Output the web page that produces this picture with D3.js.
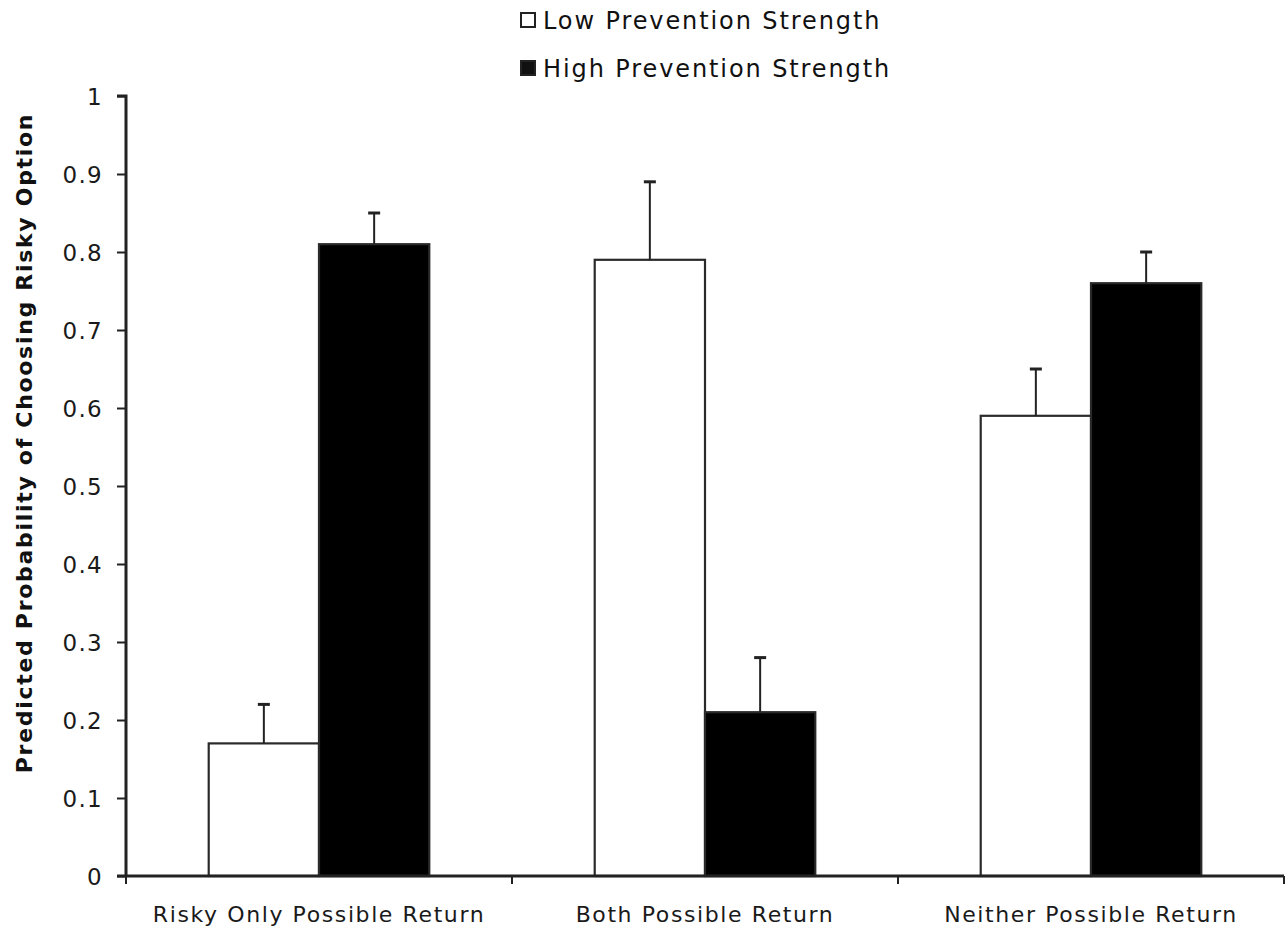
<!DOCTYPE html>
<html>
<head>
<meta charset="utf-8">
<script src="https://cdn.jsdelivr.net/npm/d3@7"></script>
<style>
  body { margin: 0; background: #fff; }
  svg text { font-family: "DejaVu Sans", Verdana, sans-serif; fill: #1a1a1a; }
</style>
</head>
<body>
<script>
  const categories = ["Risky Only Possible Return", "Both Possible Return", "Neither Possible Return"];
  const seriesNames = ["Low Prevention Strength", "High Prevention Strength"];
  const lowValues = [0.17, 0.79, 0.59];
  const highValues = [0.81, 0.21, 0.76];
  // upper end of the error bars
  const lowErrTop = [0.22, 0.89, 0.65];
  const highErrTop = [0.85, 0.28, 0.80];
  const yTicks = [0, 0.1, 0.2, 0.3, 0.4, 0.5, 0.6, 0.7, 0.8, 0.9, 1];

  var width = 1286;
  var height = 930;
  var margin = { top: 96, right: 2, bottom: 54, left: 126 };

  var svg = d3
    .select("body")
    .append("svg")
    .attr("width", width)
    .attr("height", height);

  var x0 = d3
    .scaleBand()
    .domain(categories)
    .range([margin.left, width - margin.right])
    .paddingInner(0)
    .paddingOuter(0);

  // excel style gap width 150%
  var x1 = d3
    .scaleBand()
    .domain(seriesNames)
    .range([0, x0.bandwidth()])
    .paddingInner(0)
    .paddingOuter(0.75);

  var y = d3
    .scaleLinear()
    .domain([0, 1])
    .range([height - margin.bottom, margin.top]);

  const rows = categories.map((c, i) => ({
    cat: c,
    bars: [
      { key: seriesNames[0], value: lowValues[i], err: lowErrTop[i], fill: "#fff" },
      { key: seriesNames[1], value: highValues[i], err: highErrTop[i], fill: "#000" }
    ]
  }));

  let groups = svg
    .selectAll(".group")
    .data(rows)
    .enter()
    .append("g")
    .attr("class", "group")
    .attr("transform", (d) => `translate(${x0(d.cat)},0)`);

  groups
    .selectAll("rect")
    .data((d) => d.bars)
    .enter()
    .append("rect")
    .attr("x", (d) => x1(d.key))
    .attr("y", (d) => y(d.value))
    .attr("width", x1.bandwidth())
    .attr("height", (d) => y(0) - y(d.value))
    .style("fill", (d) => d.fill)
    .style("stroke", "#2a2a2a")
    .style("stroke-width", 2.2);

  // error bars (upper only)
  groups
    .selectAll(".err")
    .data((d) => d.bars)
    .enter()
    .append("line")
    .attr("class", "err")
    .attr("x1", (d) => x1(d.key) + x1.bandwidth() / 2)
    .attr("x2", (d) => x1(d.key) + x1.bandwidth() / 2)
    .attr("y1", (d) => y(d.value))
    .attr("y2", (d) => y(d.err))
    .style("stroke", "#222")
    .style("stroke-width", 2);

  groups
    .selectAll(".cap")
    .data((d) => d.bars)
    .enter()
    .append("line")
    .attr("class", "cap")
    .attr("x1", (d) => x1(d.key) + x1.bandwidth() / 2 - 6)
    .attr("x2", (d) => x1(d.key) + x1.bandwidth() / 2 + 6)
    .attr("y1", (d) => y(d.err))
    .attr("y2", (d) => y(d.err))
    .style("stroke", "#222")
    .style("stroke-width", 3);

  // Y axis
  let yAxis = svg
    .append("g")
    .attr("transform", `translate(${margin.left},0)`)
    .call(d3.axisLeft(y).tickValues(yTicks).tickSize(9).tickPadding(14).tickFormat((d) => d3.format("")(d)));

  yAxis.select(".domain").attr("d", `M-9,${y(1)}H0V${y(0)}`).style("stroke", "#222").style("stroke-width", 3);
  yAxis.selectAll(".tick line").style("stroke", "#222").style("stroke-width", 2);
  yAxis.selectAll(".tick text")
    .attr("font-size", 23)
    .attr("dy", "0.36em")
    .style("letter-spacing", "1.3px")
    .style("fill", "#1a1a1a");
  yAxis.attr("font-family", null);

  // X axis: ticks at category boundaries
  let xAxis = svg
    .append("g")
    .attr("transform", `translate(0,${y(0)})`);

  xAxis
    .append("line")
    .attr("x1", margin.left - 9)
    .attr("x2", width - margin.right)
    .style("stroke", "#222")
    .style("stroke-width", 3);

  xAxis
    .selectAll(".xtick")
    .data(categories.concat(["end"]))
    .enter()
    .append("line")
    .attr("class", "xtick")
    .attr("x1", (d, i) => (i < categories.length ? x0(d) : x0.range()[1]))
    .attr("x2", (d, i) => (i < categories.length ? x0(d) : x0.range()[1]))
    .attr("y1", 0)
    .attr("y2", 8)
    .style("stroke", "#222")
    .style("stroke-width", 2);

  xAxis
    .selectAll(".xlabel")
    .data(categories)
    .enter()
    .append("text")
    .attr("class", "xlabel")
    .attr("x", (d) => x0(d) + x0.bandwidth() / 2)
    .attr("y", 46)
    .attr("text-anchor", "middle")
    .attr("font-size", 22)
    .style("letter-spacing", "1.6px")
    .text((d) => d);

  // Y title
  svg
    .append("text")
    .attr("transform", "translate(32,443) rotate(-90)")
    .attr("text-anchor", "middle")
    .attr("font-size", 22)
    .attr("font-weight", "bold")
    .style("letter-spacing", "1.7px")
    .style("fill", "#111")
    .text("Predicted Probability of Choosing Risky Option");

  // Legend
  const legendFill = ["#fff", "#111"];
  let legend = svg
    .selectAll(".legend")
    .data(seriesNames)
    .enter()
    .append("g")
    .attr("class", "legend")
    .attr("transform", (d, i) => `translate(521,${13 + i * 48})`);

  legend
    .append("rect")
    .attr("width", 14)
    .attr("height", 14)
    .style("fill", (d, i) => legendFill[i])
    .style("stroke", "#222")
    .style("stroke-width", 2);

  legend
    .append("text")
    .attr("x", 22)
    .attr("y", 16)
    .attr("font-size", 24)
    .style("letter-spacing", "1.9px")
    .style("fill", "#111")
    .text((d) => d);
</script>
</body>
</html>
